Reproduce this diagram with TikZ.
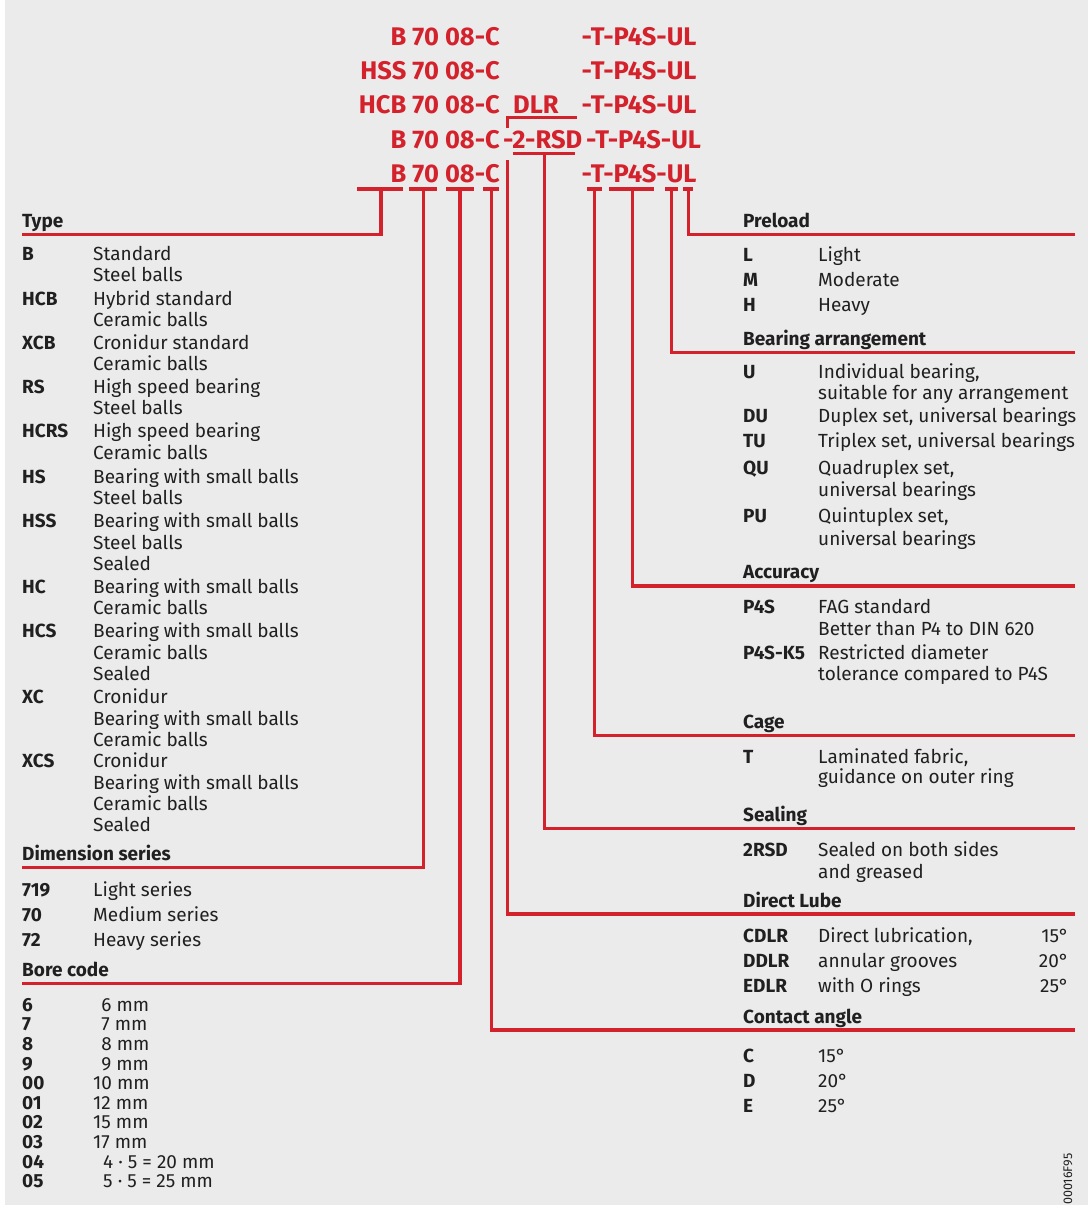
\documentclass[tikz,border=0pt]{standalone}
\usepackage{fontspec}
\setmainfont{Fira Sans}
\usetikzlibrary{positioning}
\definecolor{fagred}{RGB}{212,34,44}
\definecolor{panel}{RGB}{235,235,235}
\definecolor{ink}{RGB}{32,32,32}

\begin{document}
\begin{tikzpicture}[x=1pt, y=-1pt,
  codetxt/.style={inner sep=0pt, text=fagred, font=\fontsize{25.5}{27}\selectfont\bfseries},
  head/.style={anchor=base west, inner sep=0pt, text=ink, font=\fontsize{19}{21}\selectfont\bfseries},
  key/.style={anchor=base west, inner sep=0pt, text=ink, font=\fontsize{19}{21}\selectfont\bfseries},
  txt/.style={anchor=base west, inner sep=0pt, text=ink, font=\fontsize{19}{21}\selectfont},
  rule/.style={draw=fagred, line width=3.2pt, line join=miter}
]
  % page and panel
  \fill[white] (0,0) rectangle (1088,1210);
  \fill[panel] (5,0) rectangle (1088,1205);
  \useasboundingbox (0,0) rectangle (1088,1210);

  % designation examples
  \node[codetxt, anchor=base east] (l1a) at (500,45) {B 70 08-C};
  \node[codetxt, anchor=base west] (l1b) at (581.5,45) {-T-P4S-UL};
  \node[codetxt, anchor=base east] (l2a) at (500,79) {HSS 70 08-C};
  \node[codetxt, anchor=base west] (l2b) at (581.5,79) {-T-P4S-UL};
  \node[codetxt, anchor=base east] (l3a) at (500,113) {HCB 70 08-C};
  \node[codetxt, anchor=base west] (l3c) at (513,113) {DLR};
  \node[codetxt, anchor=base west] (l3b) at (581.5,113) {-T-P4S-UL};
  \node[codetxt, anchor=base east] (l4a) at (500,148) {B 70 08-C};
  \node[codetxt, anchor=base west] (l4c) at (503,148) {-2-RSD};
  \node[codetxt, anchor=base west] (l4b) at (586,148) {-T-P4S-UL};
  \node[codetxt, anchor=base east] (l5a) at (500,182.5) {B 70 08-C};
  \node[codetxt, anchor=base west] (l5b) at (581.5,182.5) {-T-P4S-UL};

  % headings
  \node[head] (type) at (22,227) {Type};
  \node[head] (dims) at (22,860.5) {Dimension series};
  \node[head] (bore) at (22,976.5) {Bore code};
  \node[head] (preload) at (743,227) {Preload};
  \node[head] (arr) at (743,345) {Bearing arrangement};
  \node[head] (acc) at (743,578.5) {Accuracy};
  \node[head] (cage) at (743,728) {Cage};
  \node[head] (seal) at (743,821.5) {Sealing};
  \node[head] (lube) at (743,907) {Direct Lube};
  \node[head] (angle) at (743,1023) {Contact angle};

  % line ends
  \coordinate (hType) at (22,234.3);
  \coordinate (hDim) at (22,867.7);
  \coordinate (hBore) at (22,983.3);
  \coordinate (hPre) at (1075,234.3);
  \coordinate (hArr) at (1075,352.5);
  \coordinate (hAcc) at (1075,586);
  \coordinate (hCage) at (1075,735.5);
  \coordinate (hSeal) at (1075,828.5);
  \coordinate (hLube) at (1075,914);
  \coordinate (hAngle) at (1075,1030);

  % brackets under the designation
  \coordinate (kB) at (381,189);
  \coordinate (k70) at (423.3,189);
  \coordinate (k08) at (460,189);
  \coordinate (kC) at (491.7,189);
  \coordinate (kDL) at (507.5,160);
  \coordinate (kRSD) at (544.3,153.3);
  \coordinate (kT) at (594.3,189);
  \coordinate (kP) at (632.3,189);
  \coordinate (kU) at (671.7,189);
  \coordinate (kL) at (688.3,189);
  \coordinate (kDLR) at (507.7,128.3);

  \draw[rule] ([xshift=-24pt]kB) -- ([xshift=22pt]kB);
  \draw[rule] ([xshift=-14pt]k70) -- ([xshift=14pt]k70);
  \draw[rule] ([xshift=-14pt]k08) -- ([xshift=14pt]k08);
  \draw[rule] ([xshift=-8.4pt]kC) -- ([xshift=7.6pt]kC);
  \draw[rule] ([xshift=-31pt]kRSD) -- ([xshift=30.7pt]kRSD);
  \draw[rule] ([xshift=-7pt]kT) -- ([xshift=7.4pt]kT);
  \draw[rule] ([xshift=-23pt]kP) -- ([xshift=21.7pt]kP);
  \draw[rule] ([xshift=-6.7pt]kU) -- ([xshift=6.6pt]kU);
  \draw[rule] ([xshift=-5.6pt]kL) -- ([xshift=4.4pt]kL);
  \draw[rule] (kDLR) |- ++(69,-11);

  \draw[rule] (kB) |- (hType);
  \draw[rule] (k70) |- (hDim);
  \draw[rule] (k08) |- (hBore);
  \draw[rule] (kC) |- (hAngle);
  \draw[rule] (kDL) |- (hLube);
  \draw[rule] (kRSD) |- (hSeal);
  \draw[rule] (kT) |- (hCage);
  \draw[rule] (kP) |- (hAcc);
  \draw[rule] (kU) |- (hArr);
  \draw[rule] (kL) |- (hPre);

  % Type
  \foreach \yy/\cd [count=\i] in {260/B, 305/HCB, 349/XCB, 393/RS, 437/HCRS, 483/HS,
      527/HSS, 593/HC, 637/HCS, 703/XC, 767/XCS}
    \node[key] (tk\i) at (22,\yy) {\cd};
  \foreach \yy/\tx [count=\i] in {260/Standard, 281.7/Steel balls, 305/Hybrid standard,
      326/Ceramic balls, 349/Cronidur standard, 370.7/Ceramic balls,
      393/High speed bearing, 414/Steel balls, 437/High speed bearing,
      459.5/Ceramic balls, 483/Bearing with small balls, 504/Steel balls,
      527/Bearing with small balls, 549/Steel balls, 570/Sealed,
      593/Bearing with small balls, 614/Ceramic balls,
      637/Bearing with small balls, 659/Ceramic balls, 680/Sealed,
      703/Cronidur, 725/Bearing with small balls, 746/Ceramic balls,
      767/Cronidur, 789/Bearing with small balls, 810/Ceramic balls, 831/Sealed}
    \node[txt] (td\i) at (93,\yy) {\tx};

  % Dimension series
  \foreach \yy/\cd/\tx [count=\i] in {896/719/Light series, 921/70/Medium series,
      946/72/Heavy series} {
    \node[key] (dk\i) at (22,\yy) {\cd};
    \node[txt] (dd\i) at (93,\yy) {\tx};
  }

  % Bore code
  \foreach \yy/\cd/\tx [count=\i] in {1011.7/6/\phantom{1}6 mm, 1030.7/7/\phantom{1}7 mm,
      1050/8/\phantom{1}8 mm, 1070/9/\phantom{1}9 mm, 1089/00/10 mm, 1109/01/12 mm,
      1128/02/15 mm, 1148/03/17 mm} {
    \node[key] (bk\i) at (22,\yy) {\cd};
    \node[txt] (bd\i) at (93,\yy) {\tx};
  }
  \node[key] (bk9) at (22,1168) {04};
  \node[txt] (bd9) at (103,1168) {4 · 5 = 20 mm};
  \node[key] (bk10) at (22,1187.7) {05};
  \node[txt] (bd10) at (103,1187.7) {5 · 5 = 25 mm};

  % Preload
  \foreach \yy/\cd/\tx [count=\i] in {261/L/Light, 286/M/Moderate, 311/H/Heavy} {
    \node[key] (pk\i) at (743,\yy) {\cd};
    \node[txt] (pd\i) at (818,\yy) {\tx};
  }

  % Bearing arrangement
  \node[key] (ak1) at (743,378) {U};
  \node[txt] (ad1) at (818,378) {Individual bearing,};
  \node[txt] (ad2) at (818,399.5) {suitable for any arrangement};
  \node[key] (ak2) at (743,422.7) {DU};
  \node[txt] (ad3) at (818,422.7) {Duplex set, universal bearings};
  \node[key] (ak3) at (743,447.7) {TU};
  \node[txt] (ad4) at (818,447.7) {Triplex set, universal bearings};
  \node[key] (ak4) at (743,474.3) {QU};
  \node[txt] (ad5) at (818,474.3) {Quadruplex set,};
  \node[txt] (ad6) at (818,496.7) {universal bearings};
  \node[key] (ak5) at (743,522.7) {PU};
  \node[txt] (ad7) at (818,522.7) {Quintuplex set,};
  \node[txt] (ad8) at (818,545) {universal bearings};

  % Accuracy
  \node[key] (ck1) at (743,613) {P4S};
  \node[txt] (cd1) at (818,613) {FAG standard};
  \node[txt] (cd2) at (818,635) {Better than P4 to DIN 620};
  \node[key] (ck2) at (743,659) {P4S-K5};
  \node[txt] (cd3) at (818,659) {Restricted diameter};
  \node[txt] (cd4) at (818,680) {tolerance compared to P4S};

  % Cage
  \node[key] (gk1) at (743,763) {T};
  \node[txt] (gd1) at (818,763) {Laminated fabric,};
  \node[txt] (gd2) at (818,783.5) {guidance on outer ring};

  % Sealing
  \node[key] (sk1) at (743,856) {2RSD};
  \node[txt] (sd1) at (818,856) {Sealed on both sides};
  \node[txt] (sd2) at (818,878) {and greased};

  % Direct Lube
  \foreach \yy/\cd/\tx/\ang [count=\i] in {942/CDLR/{Direct lubrication,}/15,
      967/DDLR/annular grooves/20, 992/EDLR/with O rings/25} {
    \node[key] (lk\i) at (743,\yy) {\cd};
    \node[txt] (ld\i) at (818,\yy) {\tx};
    \node[txt, anchor=base east] (la\i) at (1069,\yy) {\ang°};
  }

  % Contact angle
  \foreach \yy/\cd/\ang [count=\i] in {1062/C/15, 1087/D/20, 1112/E/25} {
    \node[key] (ek\i) at (743,\yy) {\cd};
    \node[txt] (ed\i) at (818,\yy) {\ang°};
  }

  \node[inner sep=0pt, rotate=90, text=ink, font=\fontsize{12.5}{12.5}\selectfont] (figid) at (1068,1179) {00016F95};
\end{tikzpicture}
\end{document}
